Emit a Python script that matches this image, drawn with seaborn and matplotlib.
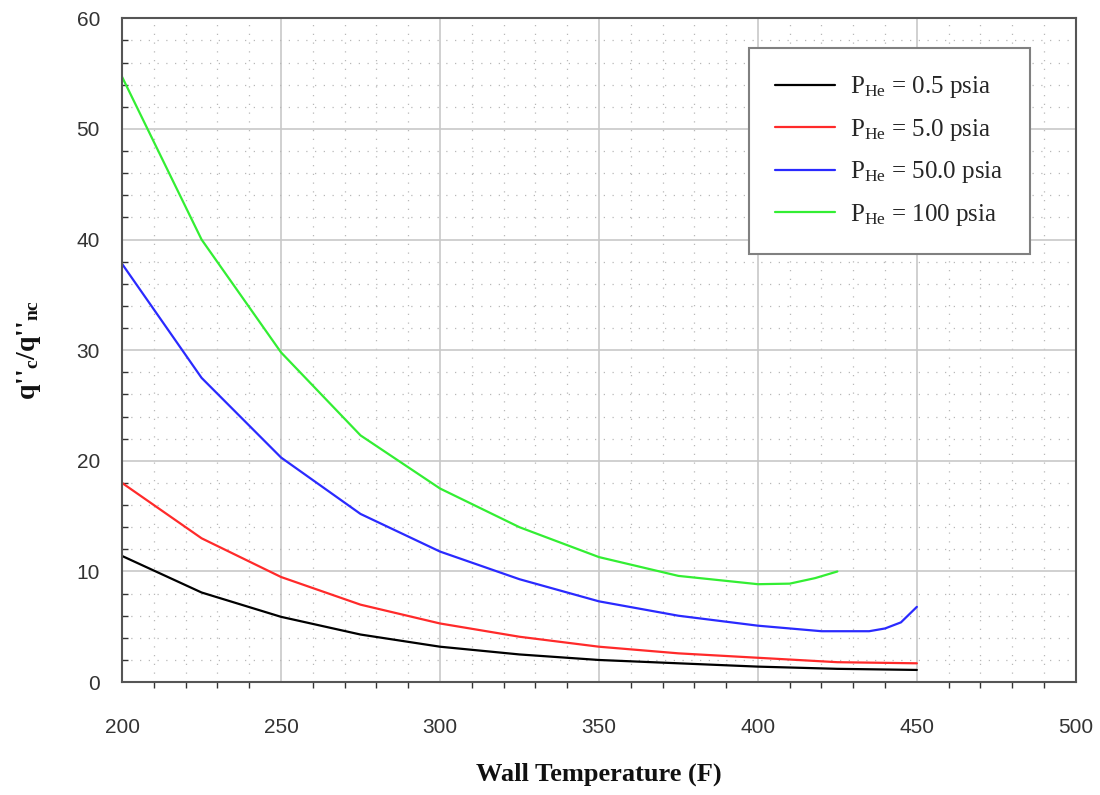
import numpy as np
import pandas as pd
import matplotlib
matplotlib.use("Agg")
import matplotlib.pyplot as plt
import seaborn as sns
from matplotlib.ticker import MultipleLocator

# ---- data ----
temp_a = [200, 225, 250, 275, 300, 325, 350, 375, 400, 425, 450]
p05 = [11.4, 8.1, 5.9, 4.3, 3.2, 2.5, 2.0, 1.7, 1.4, 1.2, 1.1]
p5 = [18.0, 13.0, 9.5, 7.0, 5.3, 4.1, 3.2, 2.6, 2.2, 1.8, 1.7]

temp_b = [200, 225, 250, 275, 300, 325, 350, 375, 400, 420, 435, 440, 445, 450]
p50 = [37.8, 27.5, 20.3, 15.2, 11.8, 9.3, 7.3, 6.0, 5.1, 4.6, 4.6, 4.85, 5.4, 6.8]

temp_c = [200, 225, 250, 275, 300, 325, 350, 375, 400, 410, 418, 425]
p100 = [54.7, 40.0, 29.8, 22.3, 17.5, 14.0, 11.3, 9.6, 8.85, 8.9, 9.4, 10.0]

labels = [r'P$_{\mathrm{He}}$ = 0.5 psia', r'P$_{\mathrm{He}}$ = 5.0 psia',
          r'P$_{\mathrm{He}}$ = 50.0 psia', r'P$_{\mathrm{He}}$ = 100 psia']
colors = ['#000000', '#ff2a2a', '#2a2aff', '#33ee33']

x_ticks = [200, 250, 300, 350, 400, 450, 500]
y_ticks = [0, 10, 20, 30, 40, 50, 60]

df = pd.concat([
    pd.DataFrame({'T': temp_a, 'q': p05, 'series': labels[0]}),
    pd.DataFrame({'T': temp_a, 'q': p5, 'series': labels[1]}),
    pd.DataFrame({'T': temp_b, 'q': p50, 'series': labels[2]}),
    pd.DataFrame({'T': temp_c, 'q': p100, 'series': labels[3]}),
], ignore_index=True)

sns.set_style('white')
plt.rcParams['mathtext.fontset'] = 'custom'
plt.rcParams['mathtext.rm'] = 'Liberation Serif'
plt.rcParams['mathtext.bf'] = 'Liberation Serif:bold'
plt.rcParams['mathtext.it'] = 'Liberation Serif:italic'

fig = plt.figure(figsize=(11, 7.95), dpi=100)
ax = fig.add_axes([0.111, 0.142, 0.867, 0.835])

sns.lineplot(data=df, x='T', y='q', hue='series', hue_order=labels,
             palette=dict(zip(labels, colors)), linewidth=1.6, ax=ax,
             sort=False, estimator=None, legend=True)

ax.set_xlim(200, 500)
ax.set_ylim(0, 60)
ax.set_xticks(x_ticks)
ax.set_yticks(y_ticks)
ax.xaxis.set_minor_locator(MultipleLocator(10))
ax.yaxis.set_minor_locator(MultipleLocator(2))

ax.grid(which='major', color='#c8c8c8', linewidth=1.2, linestyle='-')
ax.grid(which='minor', color='#b8b8b8', linewidth=0.9, linestyle=(0, (1, 6)))
ax.set_axisbelow(True)

for s in ax.spines.values():
    s.set_color('#555555')
    s.set_linewidth(1.5)

ax.tick_params(axis='both', which='major', direction='out', length=6, width=1.2,
               color='#333333', labelsize=15, pad=10)
ax.tick_params(axis='x', which='minor', direction='out', length=4, width=1, color='#333333', bottom=True)
ax.tick_params(axis='y', which='minor', direction='in', length=4, width=1, color='#333333', left=True)
for lab in ax.get_xticklabels() + ax.get_yticklabels():
    lab.set_fontfamily('Liberation Sans')
    lab.set_color('#333333')
ax.tick_params(axis='x', which='major', pad=20)

ax.set_xlabel('Wall Temperature (F)', fontfamily='Liberation Serif', fontweight='bold',
              fontsize=19, labelpad=18, color='#111111')
ax.set_ylabel(r"q''$_{\mathbf{c}}$/q''$_{\mathbf{nc}}$", fontfamily='Liberation Serif',
              fontweight='bold', fontsize=20, labelpad=24, color='#111111')

leg = ax.legend(loc='upper right', bbox_to_anchor=(0.952, 0.955), frameon=True,
                fancybox=False, edgecolor='#808080', framealpha=1,
                prop={'family': 'Liberation Serif', 'size': 18},
                handlelength=2.4, handletextpad=0.6, labelspacing=0.66,
                borderpad=1.05, borderaxespad=0)
leg.get_frame().set_linewidth(1.5)
leg.set_title(None)

fig.savefig('out.png', dpi=100)
